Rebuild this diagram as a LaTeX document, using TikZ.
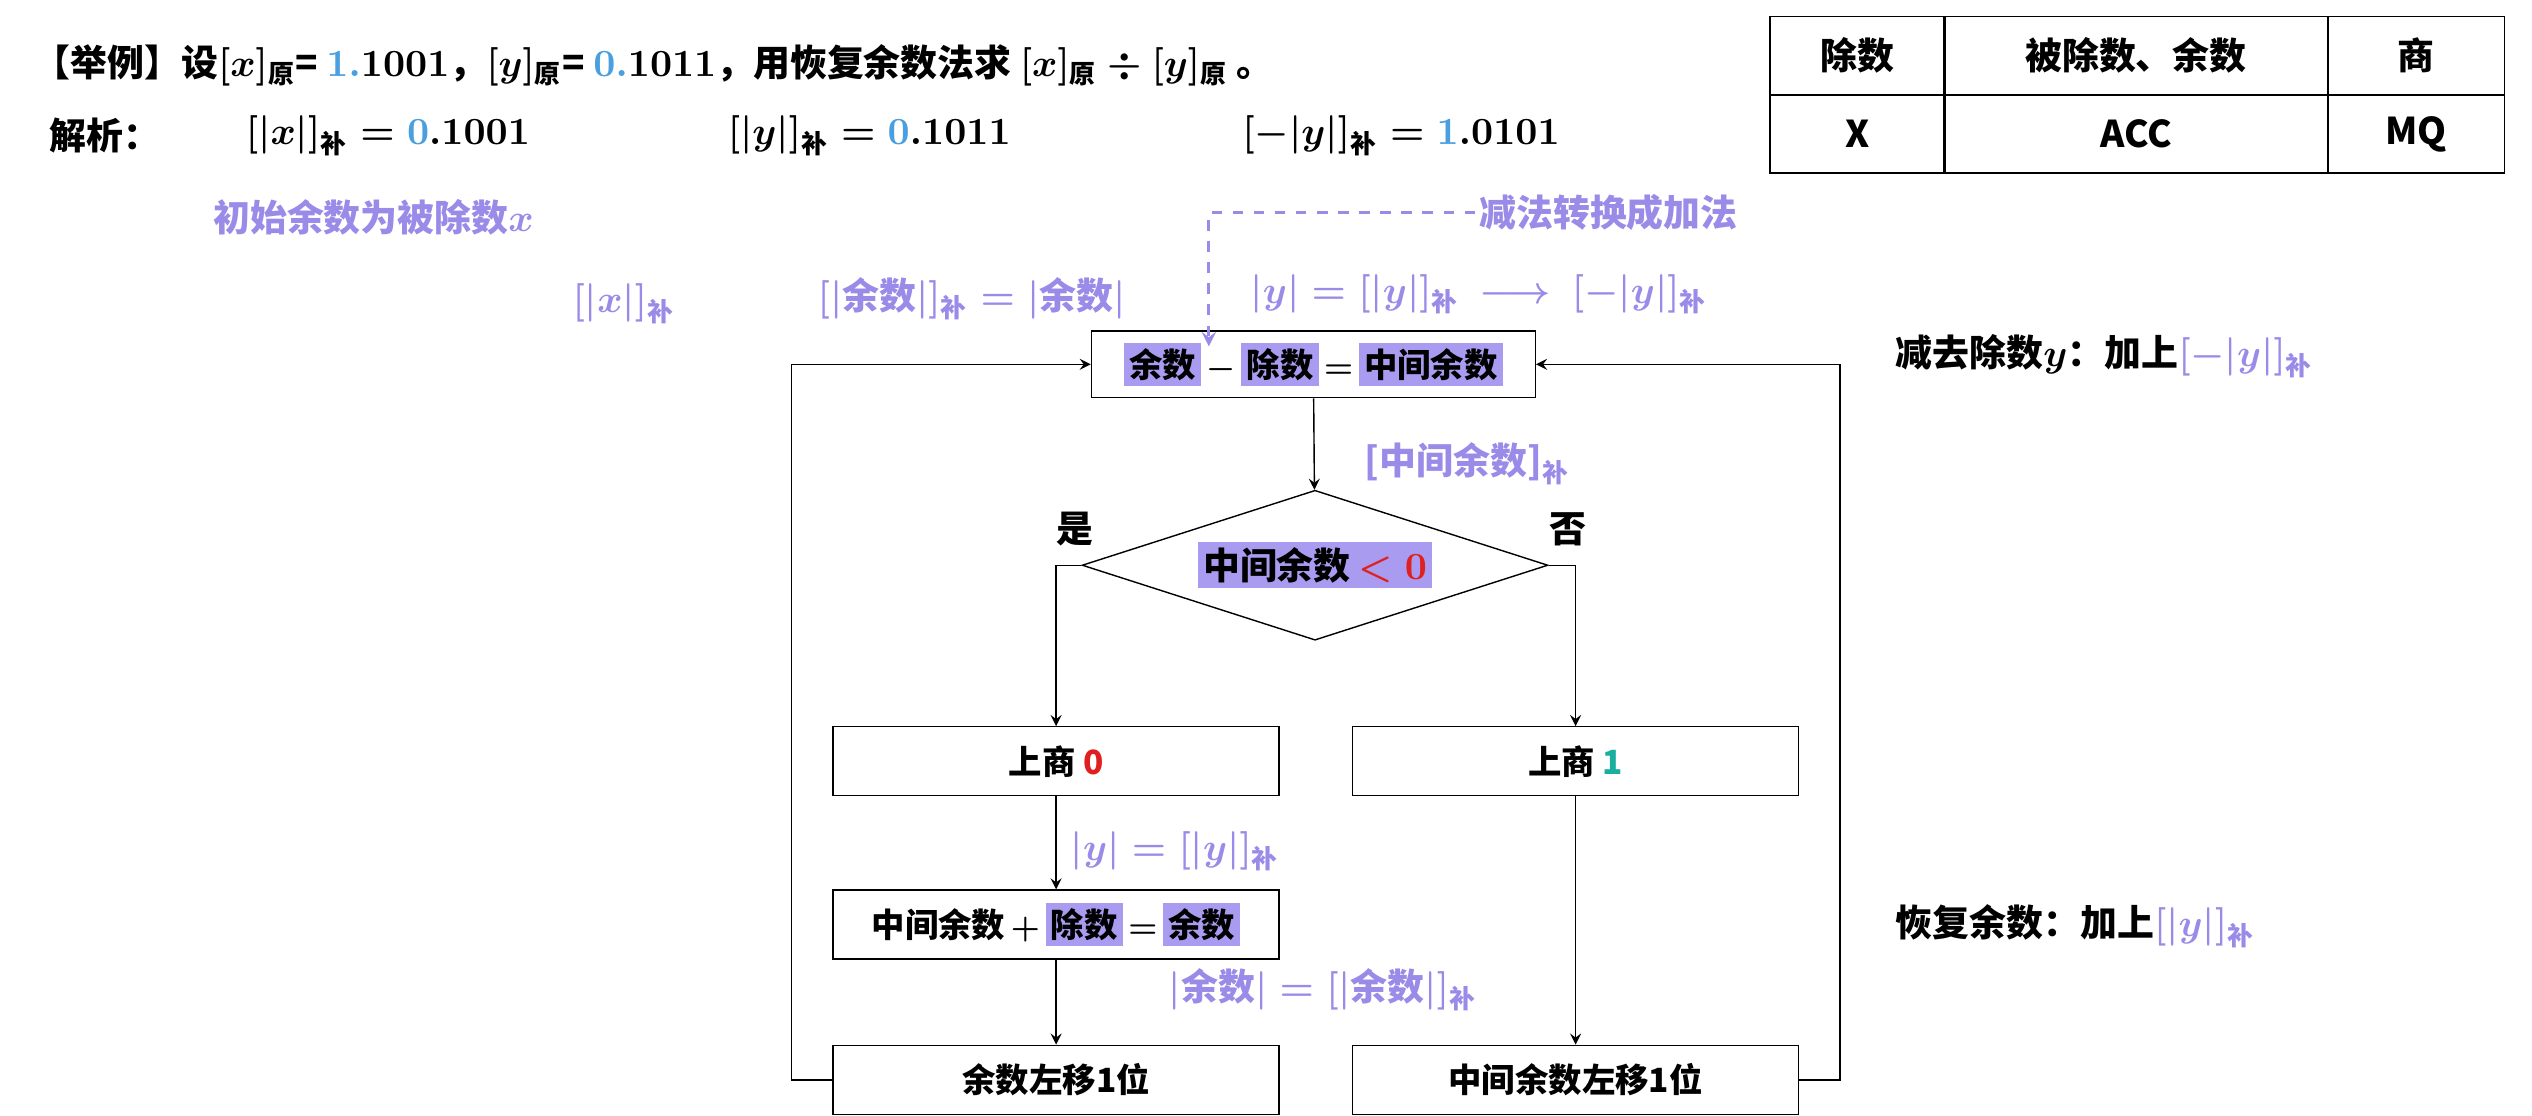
\documentclass[tikz,border=0pt]{standalone}
\usepackage{amsmath}
\usepackage{fontspec}
\newfontfamily\cjk{Noto Sans CJK SC}
\usetikzlibrary{shapes.geometric}
\definecolor{purp}{HTML}{9A8BE8}
\definecolor{hlc}{HTML}{A99CF0}
\definecolor{numblue}{HTML}{4A9FE0}
\definecolor{numteal}{HTML}{1AAE9F}
\definecolor{numred}{HTML}{E02020}
\newcommand\hl[1]{{\setlength\fboxsep{1.5pt}\colorbox{hlc}{#1}}}
\newcommand\zh[1]{\text{\cjk\bfseries #1}}
\tikzset{
    every node/.style={font=\cjk\bfseries\boldmath\fontsize{10.5}{12}\selectfont, inner sep=1pt},
    box/.style={draw, minimum width=4.46cm, minimum height=0.69cm, inner sep=0pt, font=\cjk\bfseries\boldmath\fontsize{9.5}{11}\selectfont},
    note/.style={text=purp, anchor=west},
    cell/.style={draw, minimum height=0.78cm, inner sep=0pt, font=\cjk\bfseries\fontsize{10.5}{12}\selectfont}
}
\begin{document}
\begin{tikzpicture}[x=0.016335cm, y=-0.016335cm, >=stealth, thin]
    \useasboundingbox (0,0) rectangle (1550,683);

    % Heading lines
    \node[anchor=west] (title) at (18,40) {【举例】设$[x]_{\zh{原}}$= $\mathbf{\color{numblue}1.}\mathbf{1001}$，$[y]_{\zh{原}}$= $\mathbf{\color{numblue}0.}\mathbf{1011}$，用恢复余数法求 $[x]_{\zh{原}}\div[y]_{\zh{原}}$ 。};
    \node[anchor=west] (jx) at (28,83) {解析：};
    \node[anchor=west] (xb) at (148,83) {$[|x|]_{\zh{补}}=\mathbf{\color{numblue}0}.\mathbf{1001}$};
    \node[anchor=west] (yb) at (443,83) {$[|y|]_{\zh{补}}=\mathbf{\color{numblue}0}.\mathbf{1011}$};
    \node[anchor=west] (nyb) at (758,83) {$[-|y|]_{\zh{补}}=\mathbf{\color{numblue}1}.\mathbf{0101}$};

    % Register table
    \node[cell, minimum width=1.75cm] (t1) at (1137,34) {除数};
    \node[cell, minimum width=3.84cm] (t2) at (1307.5,34) {被除数、余数};
    \node[cell, minimum width=1.77cm] (t3) at (1479,34) {商};
    \node[cell, minimum width=1.75cm] (t4) at (1137,82) {X};
    \node[cell, minimum width=3.84cm] (t5) at (1307.5,82) {ACC};
    \node[cell, minimum width=1.77cm] (t6) at (1479,82) {MQ};

    % Purple notes
    \node[note] (init) at (128,133) {初始余数为被除数$x$};
    \node[note] (xinit) at (348,186) {$[|x|]_{\zh{补}}$};
    \node[note] (rem) at (498,183) {$[|\zh{余数}|]_{\zh{补}}=|\zh{余数}|$};
    \node[note] (ytr) at (763,180) {$|y|=[|y|]_{\zh{补}}\ \longrightarrow\ [-|y|]_{\zh{补}}$};
    \node[note] (conv) at (903,130) {减法转换成加法};
    \node[note] (mid) at (833,284) {[中间余数]$_{\zh{补}}$};
    \node[note] (yeq) at (653,521) {$|y|=[|y|]_{\zh{补}}$};
    \node[note] (req) at (713,606) {$|\zh{余数}|=[|\zh{余数}|]_{\zh{补}}$};
    \node[anchor=west] (sub) at (1158,218) {减去除数$y$：加上{\color{purp}$[-|y|]_{\zh{补}}$}};
    \node[anchor=west] (rest) at (1158,567) {恢复余数：加上{\color{purp}$[|y|]_{\zh{补}}$}};

    % Flow chart
    \node[box, minimum width=4.44cm, minimum height=0.67cm] (start) at (804,223) {\hl{余数}\,$-$\,\hl{除数}\,$=$\,\hl{中间余数}};
    \node[draw, diamond, aspect=3.1, minimum width=4.66cm, minimum height=1.5cm, inner sep=0pt] (test) at (805,346) {\hl{中间余数{\color{numred}$\,<0$}}};
    \node[anchor=south] (yes) at (658,337) {是};
    \node[anchor=south] (no) at (960,337) {否};
    \node[box] (q0) at (646.5,466) {上商 {\color{numred}0}};
    \node[box] (q1) at (964.5,466) {上商 {\color{numteal}1}};
    \node[box] (add) at (646.5,566) {中间余数\,$+$\,\hl{除数}\,$=$\,\hl{余数}};
    \node[box] (shl) at (646.5,661) {余数左移1位};
    \node[box] (shr) at (964.5,661) {中间余数左移1位};
    \coordinate (dtop) at (740,130);

    \draw[->] (start) -- (test);
    \draw[->] (test.west) -| (q0.north);
    \draw[->] (test.east) -| (q1.north);
    \draw[->] (q0) -- (add);
    \draw[->] (add) -- (shl);
    \draw[->] (q1) -- (shr);
    \draw[->] (shl.west) -- ++(-25,0) |- (start.west);
    \draw[->] (shr.east) -- ++(25,0) |- (start.east);
    \draw[->, dashed, purp, thick] (conv.west) -- (dtop) -- (740,212);
\end{tikzpicture}
\end{document}
